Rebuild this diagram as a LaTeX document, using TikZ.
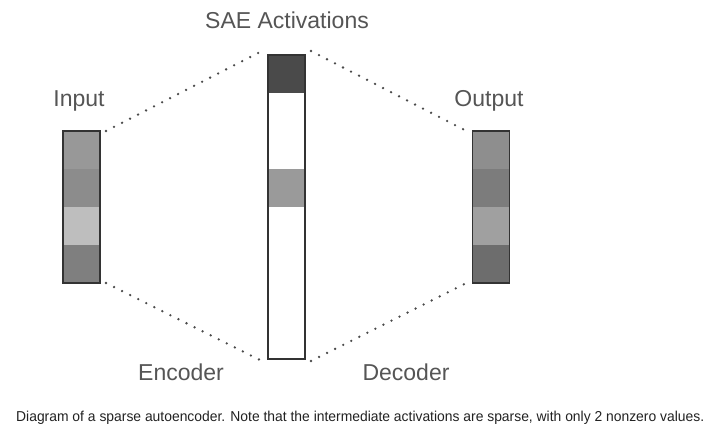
\documentclass[tikz,border=0pt]{standalone}
\usepackage{fontspec}
\setmainfont{Liberation Sans}
\usetikzlibrary{fit}
\definecolor{txt}{HTML}{555555}
\definecolor{cap}{HTML}{222222}
\definecolor{bord}{HTML}{333333}
\definecolor{dotc}{HTML}{4A4A4A}
\definecolor{ia}{HTML}{989898}
\definecolor{ib}{HTML}{8C8C8C}
\definecolor{ic}{HTML}{BEBEBE}
\definecolor{id}{HTML}{7F7F7F}
\definecolor{sa}{HTML}{4A4A4A}
\definecolor{sb}{HTML}{9A9A9A}
\definecolor{oa}{HTML}{8E8E8E}
\definecolor{ob}{HTML}{7C7C7C}
\definecolor{oc}{HTML}{A0A0A0}
\definecolor{od}{HTML}{6D6D6D}
\begin{document}
\begin{tikzpicture}[x=1pt,y=-1pt,
  cell/.style={rectangle, minimum width=37pt, minimum height=38pt, inner sep=0pt, outer sep=0pt, draw=none},
  colbox/.style={rectangle, draw=bord, line width=1.5pt, inner sep=0pt, outer sep=0pt},
  lab/.style={text=txt, font=\fontsize{23}{27}\selectfont, inner sep=0pt},
  dotline/.style={dotc, line width=2.6pt, line cap=round, dash pattern=on 0pt off 9pt}]
\useasboundingbox (0,0) rectangle (727,431);
\fill[white] (0,0) rectangle (727,431);
% input column
\node[cell, fill=ia] (i1) at (81.5,150) {};
\node[cell, fill=ib] (i2) at (81.5,188) {};
\node[cell, fill=ic] (i3) at (81.5,226) {};
\node[cell, fill=id] (i4) at (81.5,264) {};
\node[colbox, fit=(i1)(i4)] (in) {};
% SAE column
\node[cell, fill=sa] (s1) at (286.5,74) {};
\node[cell, fill=white] (s2) at (286.5,112) {};
\node[cell, fill=white] (s3) at (286.5,150) {};
\node[cell, fill=sb] (s4) at (286.5,188) {};
\node[cell, fill=white] (s5) at (286.5,226) {};
\node[cell, fill=white] (s6) at (286.5,264) {};
\node[cell, fill=white] (s7) at (286.5,302) {};
\node[cell, fill=white] (s8) at (286.5,340) {};
\node[colbox, fit=(s1)(s8)] (sae) {};
% output column
\node[cell, fill=oa] (o1) at (491,150) {};
\node[cell, fill=ob] (o2) at (491,188) {};
\node[cell, fill=oc] (o3) at (491,226) {};
\node[cell, fill=od] (o4) at (491,264) {};
\node[colbox, fit=(o1)(o4)] (out) {};
% dotted connectors
\draw[dotline] ([shift={(6pt,0pt)}]in.north east) -- ([shift={(-6pt,4pt)}]sae.north west);
\draw[dotline] ([shift={(6pt,0pt)}]in.south east) -- ([shift={(-6pt,-2pt)}]sae.south west);
\draw[dotline] ([shift={(6pt,4pt)}]sae.north east) -- ([shift={(-6pt,0pt)}]out.north west);
\draw[dotline] ([shift={(6pt,-2pt)}]sae.south east) -- ([shift={(-6pt,0pt)}]out.south west);
% labels
\node[lab] (linput) at (79,101) {Input};
\node[lab] (lsae) at (287,20) {SAE Activations};
\node[lab] (loutput) at (489,101) {Output};
\node[lab] (lenc) at (181,372) {Encoder};
\node[lab] (ldec) at (406,372) {Decoder};
% caption
\node[text=cap, inner sep=0pt, anchor=base west] (caption) at (16,421) {\resizebox{688pt}{10.4pt}{\fontsize{13}{15}\selectfont Diagram of a sparse autoencoder. Note that the intermediate activations are sparse, with only 2 nonzero values.}};
\end{tikzpicture}
\end{document}
